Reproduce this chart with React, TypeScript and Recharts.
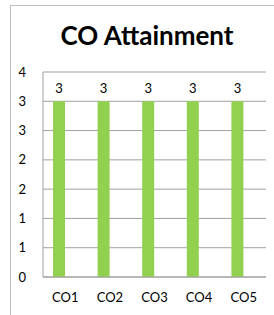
import { Bar, BarChart, CartesianGrid, LabelList, XAxis, YAxis } from 'recharts'

const courseOutcomes = ['CO1', 'CO2', 'CO3', 'CO4', 'CO5']
const attainment = [3, 3, 3, 3, 3]
const secondSeries: (number | null)[] = [null, null, null, null, null]
const yTicks = [0, 0.5, 1, 1.5, 2, 2.5, 3, 3.5]

const data = courseOutcomes.map((co, i) => ({
  co,
  attainment: attainment[i],
  other: secondSeries[i],
}))

const font = 'Lato, "Open Sans", sans-serif'

export default function App() {
  return (
    <div style={{ position: 'absolute', left: 0, top: 0, width: 274, height: 315, background: '#fff', fontFamily: font }}>
      <div
        style={{
          position: 'absolute',
          left: 10,
          top: 5,
          width: 270,
          height: 320,
          borderLeft: '1px solid #bfbfbf',
          borderTop: '1px solid #bfbfbf',
        }}
      />
      <div
        style={{
          position: 'absolute',
          left: 10,
          top: 20,
          width: 274,
          textAlign: 'center',
          fontSize: 26,
          fontWeight: 700,
          color: '#000',
          lineHeight: '30px',
        }}
      >
        CO Attainment
      </div>
      <div style={{ position: 'absolute', left: 0, top: 0 }}>
        <BarChart
          width={274}
          height={315}
          data={data}
          margin={{ top: 72, right: 8, left: 0, bottom: 0 }}
          barGap={0}
          barSize={12}
        >
          <CartesianGrid vertical={false} stroke="#a0a0a0" />
          <XAxis
            dataKey="co"
            height={38}
            tickLine={false}
            axisLine={{ stroke: '#a0a0a0' }}
            tickMargin={10}
            tick={{ fill: '#000', fontSize: 13, fontFamily: font }}
          />
          <YAxis
            width={43}
            domain={[0, 3.5]}
            ticks={yTicks}
            interval={0}
            tickLine={false}
            axisLine={{ stroke: '#a0a0a0' }}
            tickMargin={11}
            tickFormatter={(v: number) => String(Math.round(v))}
            tick={{ fill: '#000', fontSize: 13, fontFamily: font }}
          />
          <Bar dataKey="attainment" fill="#92d050" isAnimationActive={false}>
            <LabelList dataKey="attainment" position="top" offset={8} fill="#000" fontSize={13} fontFamily={font} />
          </Bar>
          <Bar dataKey="other" fill="#4f81bd" isAnimationActive={false} />
        </BarChart>
      </div>
    </div>
  )
}
